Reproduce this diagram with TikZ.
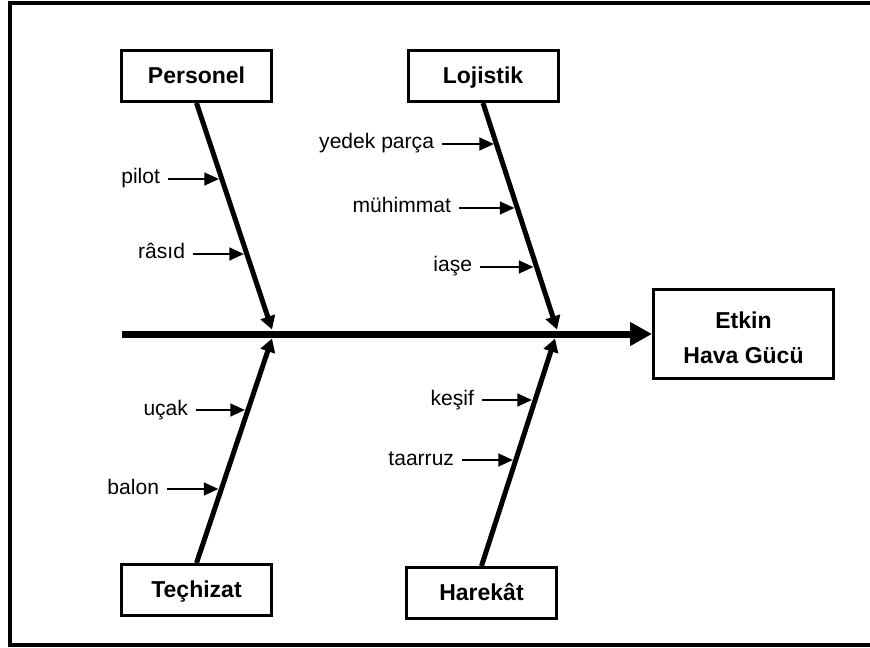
\documentclass[tikz,border=0pt]{standalone}
\usepackage{fontspec}
\setmainfont{Liberation Sans}
\usetikzlibrary{arrows.meta}
\begin{document}
\begin{tikzpicture}[x=0.75pt,y=-0.75pt,
 catbox/.style={draw,line width=2.25pt,minimum width=112.5pt,minimum height=38.25pt,inner sep=0pt,text height=12.4pt,text depth=0.6pt,font=\fontsize{17.25}{20}\selectfont\bfseries},
 effbox/.style={draw,line width=2.25pt,minimum width=135pt,minimum height=66.75pt,inner sep=0pt,align=center,font=\fontsize{17.25}{26.25}\selectfont\bfseries},
 lbl/.style={anchor=east,inner sep=0pt,outer xsep=6pt,outer ysep=0pt,text height=10pt,text depth=2.5pt,font=\fontsize{15.8}{18}\selectfont},
 spine/.style={line width=5.25pt,-{Triangle[length=16.5pt,width=17pt]}},
 bone/.style={line width=3.75pt,-{Triangle[length=10pt,width=11pt]}},
 sub/.style={line width=1.9pt,-{Triangle[length=11pt,width=9.5pt]}},
 frame/.style={line width=3pt}]
\useasboundingbox (0,0) rectangle (870,648);
\draw[frame] (10,3.5) rectangle (885,645);

% boxes
\node[catbox] (pers) at (196.5,76) {Personel};
\node[catbox] (loj) at (483,76) {Lojistik};
\node[catbox] (tec) at (196.5,590) {Teçhizat};
\node[catbox] (har) at (481.5,593) {Harekât};
\node[effbox] (eff) at (743.5,334) {\rule{0pt}{18pt}Etkin\\Hava Gücü};

% spine
\coordinate (s0) at (122,334);
\draw[spine] (s0) -- (eff.west);

% bone tips on spine
\coordinate (pb) at (272,329.5);
\coordinate (lb) at (557,329.5);
\coordinate (tb) at (272,338.5);
\coordinate (hb) at (555,338.5);
\draw[bone] (pers.south) -- (pb);
\draw[bone] (loj.south) -- (lb);
\draw[bone] (tec.north) -- (tb);
\draw[bone] (har.north) -- (hb);

% sub-cause tips
\coordinate (t1) at (219,179);
\coordinate (t2) at (244,254);
\coordinate (t3) at (494,144);
\coordinate (t4) at (514.5,208);
\coordinate (t5) at (533.5,267);
\coordinate (t6) at (245,410);
\coordinate (t7) at (218.5,489);
\coordinate (t8) at (532,400);
\coordinate (t9) at (513,460);

% labels
\node[lbl] (l1) at (168,179) {pilot};
\node[lbl] (l2) at (193,254) {râsıd};
\node[lbl] (l3) at (442,144) {yedek parça};
\node[lbl] (l4) at (459,208) {mühimmat};
\node[lbl] (l5) at (480,267) {iaşe};
\node[lbl] (l6) at (196,410) {uçak};
\node[lbl] (l7) at (167,489) {balon};
\node[lbl] (l8) at (482,400) {keşif};
\node[lbl] (l9) at (462,460) {taarruz};

\draw[sub] (l1) -- (t1);
\draw[sub] (l2) -- (t2);
\draw[sub] (l3) -- (t3);
\draw[sub] (l4) -- (t4);
\draw[sub] (l5) -- (t5);
\draw[sub] (l6) -- (t6);
\draw[sub] (l7) -- (t7);
\draw[sub] (l8) -- (t8);
\draw[sub] (l9) -- (t9);
\end{tikzpicture}
\end{document}
